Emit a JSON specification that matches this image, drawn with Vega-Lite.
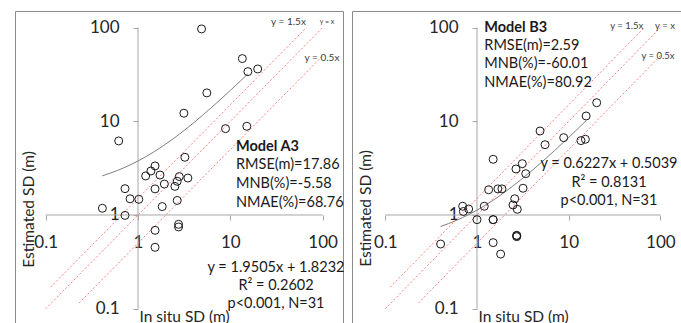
{
  "$schema": "https://vega.github.io/schema/vega-lite/v6.json",
  "background": "white",
  "padding": {"left": 14, "top": 10, "right": 0, "bottom": 0},
  "spacing": 5,
  "config": {
    "font": "Lato",
    "view": {"stroke": "#8c8c8c", "strokeWidth": 1},
    "axis": {"domain": false, "grid": false, "tickColor": "#a6a6a6", "tickSize": 5, "labelFontSize": 17, "labelColor": "#262626", "titleFontSize": 15.5, "titleFontWeight": "normal", "titleColor": "#262626", "labelFlush": false, "labelOverlap": false},
    "axisX": {"labelPadding": 22, "labelBaseline": "middle"},
    "axisY": {"labelPadding": 14}
  },
  "datasets": {
    "axes": [
      {"x": 1, "y": 0.1, "x2": 1, "y2": 100},
      {"x": 0.1, "y": 1, "x2": 100, "y2": 1}
    ],
    "refs": [
      {"line": "1.5x", "x": 0.113, "y": 0.17},
      {"line": "1.5x", "x": 66.7, "y": 100},
      {"line": "1x", "x": 0.1, "y": 0.1},
      {"line": "1x", "x": 100, "y": 100},
      {"line": "0.5x", "x": 0.23, "y": 0.115},
      {"line": "0.5x", "x": 100, "y": 50}
    ],
    "ptsA": [
      {"x": 4.88, "y": 96.8}, {"x": 13.5, "y": 46.7}, {"x": 15.5, "y": 33.9}, {"x": 19.8, "y": 36.2},
      {"x": 5.57, "y": 20.1}, {"x": 3.14, "y": 12.2}, {"x": 8.87, "y": 8.35}, {"x": 15.1, "y": 8.85},
      {"x": 0.618, "y": 6.17}, {"x": 3.22, "y": 4.13}, {"x": 1.53, "y": 3.34}, {"x": 1.38, "y": 2.95},
      {"x": 1.21, "y": 2.61}, {"x": 1.73, "y": 2.67}, {"x": 2.8, "y": 2.57}, {"x": 3.47, "y": 2.48},
      {"x": 1.93, "y": 2.14}, {"x": 2.66, "y": 2.29}, {"x": 2.51, "y": 2.02}, {"x": 1.53, "y": 1.9},
      {"x": 0.723, "y": 1.91}, {"x": 0.82, "y": 1.49}, {"x": 1.02, "y": 1.47}, {"x": 2.66, "y": 1.43},
      {"x": 1.83, "y": 1.23}, {"x": 0.411, "y": 1.18}, {"x": 0.723, "y": 0.99}, {"x": 2.75, "y": 0.795},
      {"x": 2.75, "y": 0.745}, {"x": 1.53, "y": 0.686}, {"x": 1.53, "y": 0.452}
    ],
    "ptsB": [
      {"x": 20.2, "y": 15.8}, {"x": 15.5, "y": 11.4}, {"x": 4.87, "y": 7.88}, {"x": 8.82, "y": 6.69},
      {"x": 13.6, "y": 6.22}, {"x": 15.2, "y": 6.43}, {"x": 5.52, "y": 5.63}, {"x": 1.5, "y": 3.93},
      {"x": 3.12, "y": 3.53}, {"x": 2.66, "y": 3.1}, {"x": 3.4, "y": 2.76}, {"x": 1.34, "y": 1.86},
      {"x": 1.69, "y": 1.9}, {"x": 1.87, "y": 1.9}, {"x": 3.18, "y": 1.93}, {"x": 2.58, "y": 1.49},
      {"x": 2.47, "y": 1.28}, {"x": 2.75, "y": 1.15}, {"x": 0.698, "y": 1.24}, {"x": 0.71, "y": 1.09},
      {"x": 0.811, "y": 1.16}, {"x": 1.2, "y": 1.24}, {"x": 1.0, "y": 0.892}, {"x": 1.5, "y": 0.892},
      {"x": 1.5, "y": 0.892}, {"x": 2.71, "y": 0.607}, {"x": 2.71, "y": 0.587}, {"x": 2.71, "y": 0.6},
      {"x": 1.5, "y": 0.507}, {"x": 1.81, "y": 0.383}, {"x": 0.401, "y": 0.49}
    ],
    "fitA": [
      {"x": 0.41, "y": 2.62}, {"x": 0.6, "y": 2.99}, {"x": 0.8, "y": 3.38}, {"x": 1, "y": 3.77},
      {"x": 1.5, "y": 4.75}, {"x": 2, "y": 5.72}, {"x": 3, "y": 7.67}, {"x": 4, "y": 9.62},
      {"x": 5, "y": 11.58}, {"x": 7, "y": 15.48}, {"x": 10, "y": 21.33}, {"x": 13, "y": 27.18},
      {"x": 15.5, "y": 32.06}
    ],
    "fitB": [
      {"x": 0.4, "y": 0.753}, {"x": 0.6, "y": 0.878}, {"x": 0.8, "y": 1.002}, {"x": 1, "y": 1.127},
      {"x": 1.5, "y": 1.438}, {"x": 2, "y": 1.749}, {"x": 3, "y": 2.372}, {"x": 4, "y": 2.995},
      {"x": 5, "y": 3.617}, {"x": 7, "y": 4.863}, {"x": 10, "y": 6.731}, {"x": 13, "y": 8.599},
      {"x": 15.5, "y": 10.156}
    ],
    "boldA": [{"x": 11.53, "y": 5.32, "t": "Model A3"}],
    "statsA": [
      {"x": 11.53, "y": 3.39, "t": "RMSE(m)=17.86"},
      {"x": 11.53, "y": 2.127, "t": "MNB(%)=-5.58"},
      {"x": 11.53, "y": 1.343, "t": "NMAE(%)=68.76"}
    ],
    "eqA": [
      {"x": 31.27, "y": 0.2719, "t": "y = 1.9505x + 1.8232"},
      {"x": 31.27, "y": 0.1747, "t": "R² = 0.2602"},
      {"x": 31.27, "y": 0.1122, "t": "p<0.001, N=31"}
    ],
    "refLblA": [
      {"x": 42.7, "y": 114.8, "t": "y = 1.5x"},
      {"x": 98.5, "y": 47.4, "t": "y = 0.5x"}
    ],
    "refLblA2": [{"x": 111.6, "y": 114.8, "t": "y = x"}],
    "boldB": [{"x": 1.201, "y": 98.3, "t": "Model B3"}],
    "statsB": [
      {"x": 1.201, "y": 63.6, "t": "RMSE(m)=2.59"},
      {"x": 1.201, "y": 40.6, "t": "MNB(%)=-60.01"},
      {"x": 1.201, "y": 25.8, "t": "NMAE(%)=80.92"}
    ],
    "eqB": [
      {"x": 27.5, "y": 3.476, "t": "y = 0.6227x + 0.5039"},
      {"x": 27.5, "y": 2.212, "t": "R² = 0.8131"},
      {"x": 27.5, "y": 1.411, "t": "p<0.001, N=31"}
    ],
    "refLblB": [
      {"x": 42.9, "y": 104, "t": "y = 1.5x"},
      {"x": 112.2, "y": 104, "t": "y = x"},
      {"x": 94.2, "y": 49.8, "t": "y = 0.5x"}
    ]
  },
  "hconcat": [
    {
      "width": 328,
      "height": 320,
      "encoding": {
        "x": {"field": "x", "type": "quantitative", "scale": {"type": "log", "domain": [0.04649, 166.3], "nice": false},
          "axis": {"values": [0.1, 1, 10, 100], "format": "~g", "offset": -116, "title": "In situ SD (m)", "titleX": 124, "titleY": 101, "titleAlign": "left", "titleBaseline": "middle"}},
        "y": {"field": "y", "type": "quantitative", "scale": {"type": "log", "domain": [0.0578, 150.4], "nice": false},
          "axis": {"values": [0.1, 1, 10, 100], "format": "~g", "offset": -123, "title": "Estimated SD (m)", "titleX": -110, "titleY": 198, "titleAngle": 270, "titleAlign": "center", "titleBaseline": "middle"}}
      },
      "layer": [
        {"data": {"name": "axes"}, "mark": {"type": "rule", "color": "#a6a6a6", "strokeWidth": 1}, "encoding": {"x2": {"field": "x2"}, "y2": {"field": "y2"}}},
        {"data": {"name": "refs"}, "mark": {"type": "line", "color": "#ff7f7f", "strokeDash": [2, 2], "strokeWidth": 1}, "encoding": {"detail": {"field": "line"}}},
        {"data": {"name": "fitA"}, "mark": {"type": "line", "color": "#7f7f7f", "strokeWidth": 1, "interpolate": "monotone"}, "encoding": {}},
        {"data": {"name": "ptsA"}, "mark": {"type": "point", "shape": "circle", "filled": false, "size": 64, "color": "#1a1a1a", "strokeWidth": 1, "opacity": 1}, "encoding": {}},
        {"data": {"name": "boldA"}, "mark": {"type": "text", "align": "left", "baseline": "middle", "fontSize": 14.5, "fontWeight": "bold", "color": "#1a1a1a"}, "encoding": {"text": {"field": "t"}}},
        {"data": {"name": "statsA"}, "mark": {"type": "text", "align": "left", "baseline": "middle", "fontSize": 14.5, "color": "#1a1a1a"}, "encoding": {"text": {"field": "t"}}},
        {"data": {"name": "eqA"}, "mark": {"type": "text", "align": "center", "baseline": "middle", "fontSize": 14.5, "color": "#1a1a1a"}, "encoding": {"text": {"field": "t"}}},
        {"data": {"name": "refLblA"}, "mark": {"type": "text", "align": "center", "baseline": "middle", "fontSize": 10, "color": "#404040"}, "encoding": {"text": {"field": "t"}}},
        {"data": {"name": "refLblA2"}, "mark": {"type": "text", "align": "center", "baseline": "middle", "fontSize": 7, "color": "#404040"}, "encoding": {"text": {"field": "t"}}}
      ]
    },
    {
      "width": 330,
      "height": 320,
      "encoding": {
        "x": {"field": "x", "type": "quantitative", "scale": {"type": "log", "domain": [0.04334, 172.0], "nice": false},
          "axis": {"values": [0.1, 1, 10, 100], "format": "~g", "offset": -116, "title": "In situ SD (m)", "titleX": 126, "titleY": 101, "titleAlign": "left", "titleBaseline": "middle"}},
        "y": {"field": "y", "type": "quantitative", "scale": {"type": "log", "domain": [0.0578, 150.4], "nice": false},
          "axis": {"values": [0.1, 1, 10, 100], "format": "~g", "offset": -125, "title": "Estimated SD (m)", "titleX": -112, "titleY": 197, "titleAngle": 270, "titleAlign": "center", "titleBaseline": "middle"}}
      },
      "layer": [
        {"data": {"name": "axes"}, "mark": {"type": "rule", "color": "#a6a6a6", "strokeWidth": 1}, "encoding": {"x2": {"field": "x2"}, "y2": {"field": "y2"}}},
        {"data": {"name": "refs"}, "mark": {"type": "line", "color": "#ff7f7f", "strokeDash": [2, 2], "strokeWidth": 1}, "encoding": {"detail": {"field": "line"}}},
        {"data": {"name": "fitB"}, "mark": {"type": "line", "color": "#7f7f7f", "strokeWidth": 1, "interpolate": "monotone"}, "encoding": {}},
        {"data": {"name": "ptsB"}, "mark": {"type": "point", "shape": "circle", "filled": false, "size": 64, "color": "#1a1a1a", "strokeWidth": 1, "opacity": 1}, "encoding": {}},
        {"data": {"name": "boldB"}, "mark": {"type": "text", "align": "left", "baseline": "middle", "fontSize": 14.5, "fontWeight": "bold", "color": "#1a1a1a"}, "encoding": {"text": {"field": "t"}}},
        {"data": {"name": "statsB"}, "mark": {"type": "text", "align": "left", "baseline": "middle", "fontSize": 14.5, "color": "#1a1a1a"}, "encoding": {"text": {"field": "t"}}},
        {"data": {"name": "eqB"}, "mark": {"type": "text", "align": "center", "baseline": "middle", "fontSize": 14.5, "color": "#1a1a1a"}, "encoding": {"text": {"field": "t"}}},
        {"data": {"name": "refLblB"}, "mark": {"type": "text", "align": "center", "baseline": "middle", "fontSize": 9.5, "color": "#404040"}, "encoding": {"text": {"field": "t"}}}
      ]
    }
  ]
}
